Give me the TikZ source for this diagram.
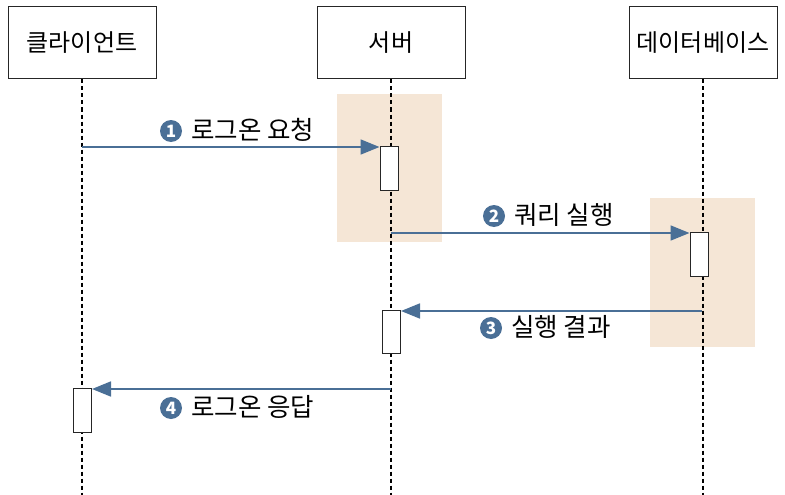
\documentclass[tikz,border=0pt]{standalone}
\usepackage{fontspec}
\setmainfont{Noto Sans CJK KR}
\usetikzlibrary{arrows.meta}
\definecolor{msgblue}{HTML}{4A6F96}
\definecolor{bgtan}{HTML}{F5E6D6}
\tikzset{
  actor/.style={draw=black!85, line width=1pt, minimum width=148pt, minimum height=72pt, font=\fontsize{24}{28}\selectfont, inner sep=0pt},
  life/.style={draw=black, line width=1.8pt, dash pattern=on 4pt off 3pt},
  actbox/.style={draw=black!85, fill=white, line width=1pt, minimum width=18pt, inner sep=0pt},
  msg/.style={draw=msgblue, line width=1.8pt, -{Triangle[length=19pt,width=15pt]}},
  lbl/.style={font=\fontsize{25.5}{28}\selectfont, inner sep=0pt},
  num/.style={circle, fill=msgblue, text=white, minimum size=22pt, inner sep=0pt, font=\bfseries\fontsize{17}{17}\selectfont}
}
\begin{document}
\begin{tikzpicture}[x=1pt,y=-1pt]
\useasboundingbox (0,0) rectangle (785,495);
% shaded areas
\fill[bgtan] (337,94) rectangle (442,242);
\fill[bgtan] (650,198) rectangle (755,347);
% actors
\node[actor] (cl) at (82,43) {클라이언트};
\node[actor] (sv) at (391,43) {서버};
\node[actor] (db) at (703,43) {데이터베이스};
\coordinate (clend) at (82,495);
\coordinate (svend) at (391,495);
\coordinate (dbend) at (703,495);
\draw[life] (cl.south) -- (clend);
\draw[life] (sv.south) -- (svend);
\draw[life] (db.south) -- (dbend);
% activation boxes
\node[actbox, minimum height=44pt] (a1) at (389,168) {};
\node[actbox, minimum height=44pt] (a2) at (699,254) {};
\node[actbox, minimum height=43pt] (a3) at (391.5,331.5) {};
\node[actbox, minimum height=44pt] (a4) at (82.5,410) {};
% message anchors
\coordinate (m1s) at (82,147);
\coordinate (m2s) at (391,233);
\coordinate (m3s) at (702,311);
\coordinate (m4s) at (391,389);
\draw[msg] (m1s) -- (m1s -| a1.west);
\draw[msg] (m2s) -- (m2s -| a2.west);
\draw[msg] (m3s) -- (m3s -| a3.east);
\draw[msg] (m4s) -- (m4s -| a4.east);
% labels
\node[num] (n1) at (171,131) {1};
\node[lbl, anchor=west] (t1) at (191,130) {로그온 요청};
\node[num] (n2) at (494,216) {2};
\node[lbl, anchor=west] (t2) at (514,215) {쿼리 실행};
\node[num] (n3) at (491,328) {3};
\node[lbl, anchor=west] (t3) at (511,327) {실행 결과};
\node[num] (n4) at (171,408) {4};
\node[lbl, anchor=west] (t4) at (191,407) {로그온 응답};
\end{tikzpicture}
\end{document}
